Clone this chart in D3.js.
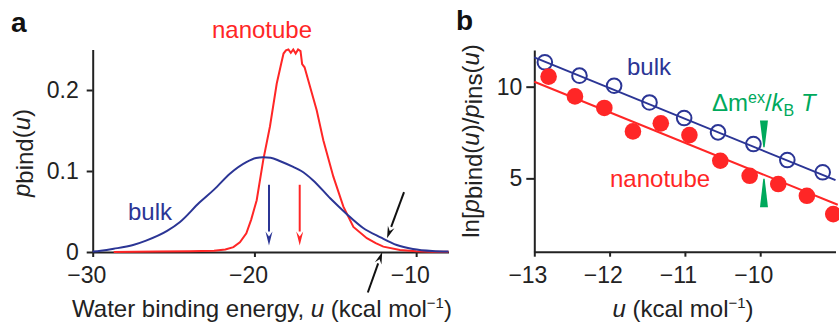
<!DOCTYPE html>
<html>
<head>
<meta charset="utf-8">
<script src="https://cdn.jsdelivr.net/npm/d3@7"></script>
<style>
  body { margin: 0; background: #fff; }
  svg { display: block; font-family: "Liberation Sans", Arial, sans-serif; }
</style>
</head>
<body>
<div id="plot"></div>
<script>
// Panel a: binding energy distributions
var bulkU = [-30, -29.5, -28.7, -27.5, -26.7, -25.4, -24.6, -23.4, -22.5, -21.5, -20.5, -19.9, -19.45, -19.0, -18.4, -17.6, -17.1, -16.4, -15.3, -14.3, -13.3, -12.2, -11.2, -10.2, -9.0, -8];
var bulkP = [0.0005, 0.0016, 0.004, 0.0086, 0.014, 0.026, 0.037, 0.061, 0.077, 0.097, 0.111, 0.116, 0.117, 0.1165, 0.112, 0.105, 0.100, 0.089, 0.066, 0.047, 0.030, 0.018, 0.0086, 0.0037, 0.0012, 0.0006];
var nanoU = [-28.7, -26, -24, -22.5, -21.8, -21.3, -20.9, -20.5, -20.2, -19.86, -19.45, -19.04, -18.62, -18.35, -18.2, -18.05, -17.9, -17.75, -17.6, -17.45, -17.3, -17.15, -17.05, -16.9, -16.56, -16.15, -15.74, -15.12, -14.5, -13.88, -13.05, -12.5, -12.03, -11, -10, -9, -8];
var nanoP = [0, 0.0005, 0.0008, 0.0015, 0.003, 0.006, 0.012, 0.023, 0.04, 0.064, 0.114, 0.155, 0.208, 0.232, 0.245, 0.249, 0.25, 0.246, 0.25, 0.245, 0.25, 0.248, 0.232, 0.228, 0.204, 0.175, 0.138, 0.093, 0.056, 0.031, 0.017, 0.011, 0.0066, 0.0025, 0.001, 0.0004, 0.0002];
var xTicksA = [-30, -20, -10];
var yTicksA = [0, 0.1, 0.2];
// arrows: [u0, p0, u1, p1], tail -> tip
var meanArrows = [[-19.1, 0.083, -19.1, 0.008], [-17.2, 0.083, -17.2, 0.008]];
var blackArrows = [[-10.75, 0.074, -11.8, 0.017], [-12.99, -0.05, -12.1, 0.0]];

// Panel b: log ratio vs u
var bulkBU = [-12.86, -12.40, -11.94, -11.47, -11.01, -10.56, -10.09, -9.64, -9.17];
var bulkBV = [11.33, 10.6, 10.05, 9.14, 8.29, 7.51, 6.87, 6.0, 5.33];
var nanoBU = [-12.81, -12.46, -12.07, -11.69, -11.32, -10.94, -10.53, -10.14, -9.76, -9.38, -9.03];
var nanoBV = [10.55, 9.47, 8.84, 7.56, 8.0, 7.36, 5.96, 5.14, 4.69, 4.05, 3.05];
var bulkFitU = [-13, -9], bulkFitV = [11.6, 4.9];
var nanoFitU = [-13, -8.97], nanoFitV = [10.27, 3.56];
var xTicksB = [-13, -12, -11, -10];
var yTicksB = [5, 10];
// green wedges at u = -9.95: [wide end, tip]
var deltaU = -9.95;
var wedges = [[8.15, 6.69], [3.42, 4.98]];

var blue = "#2b3595", red = "#ff2626", green = "#00a95c";
var W = 839, H = 328;

var svg = d3.select("#plot").append("svg")
    .attr("width", W).attr("height", H)
    .attr("viewBox", "0 0 " + W + " " + H);

function fmtMinus(d) { return d < 0 ? "\u2212" + Math.abs(d) : "" + d; }

function arrow(g, x0, y0, x1, y1, color, len, half) {
    var a = Math.atan2(y1 - y0, x1 - x0);
    var bx = x1 - len * Math.cos(a), by = y1 - len * Math.sin(a);
    g.append("line")
        .attr("x1", x0).attr("y1", y0).attr("x2", bx).attr("y2", by)
        .attr("stroke", color).attr("stroke-width", 2);
    var px = -Math.sin(a) * half, py = Math.cos(a) * half;
    g.append("path")
        .attr("d", "M" + x1 + "," + y1 + "L" + (bx + px) + "," + (by + py) +
            "L" + (bx + 0.35 * len * Math.cos(a)) + "," + (by + 0.35 * len * Math.sin(a)) +
            "L" + (bx - px) + "," + (by - py) + "Z")
        .attr("fill", color);
}

function styleAxis(g) {
    g.selectAll(".domain").attr("stroke", "#222").attr("stroke-width", 2);
    g.selectAll(".tick line").attr("stroke", "#222").attr("stroke-width", 2);
    g.selectAll(".tick text").attr("fill", "#222")
        .style("font-family", "Liberation Sans, Arial, sans-serif")
        .style("font-size", "23px");
}

// ---------- panel a ----------
var xa = d3.scaleLinear().domain([-30, -8]).range([92.7, 448.5]);
var ya = d3.scaleLinear().domain([0, 0.25]).range([252, 49.5]);

var ga = svg.append("g");
var axA = ga.append("g").attr("transform", "translate(0," + ya(0) + ")")
    .call(d3.axisBottom(xa).tickValues(xTicksA).tickFormat(fmtMinus)
        .tickSize(5).tickSizeOuter(0).tickPadding(10));
styleAxis(axA);
axA.selectAll(".tick text").attr("dx", "-0.28em");
var ayA = ga.append("g").attr("transform", "translate(" + xa(-30) + ",0)")
    .call(d3.axisLeft(ya).tickValues(yTicksA).tickFormat(function(d) { return d === 0 ? "0" : d3.format(".1f")(d); })
        .tickSize(6).tickSizeOuter(0).tickPadding(8));
styleAxis(ayA);

var lineA = d3.line().x(function(d) { return xa(d[0]); }).y(function(d) { return ya(d[1]); });
ga.append("path").datum(d3.zip(nanoU, nanoP)).attr("d", lineA)
    .attr("fill", "none").attr("stroke", red).attr("stroke-width", 2);
ga.append("path").datum(d3.zip(bulkU, bulkP)).attr("d", lineA.curve(d3.curveMonotoneX))
    .attr("fill", "none").attr("stroke", blue).attr("stroke-width", 2);

arrow(ga, xa(meanArrows[0][0]), ya(meanArrows[0][1]), xa(meanArrows[0][2]), ya(meanArrows[0][3]), blue, 14, 3.5);
arrow(ga, xa(meanArrows[1][0]), ya(meanArrows[1][1]), xa(meanArrows[1][2]), ya(meanArrows[1][3]), red, 14, 3.5);
blackArrows.forEach(function(b) {
    arrow(ga, xa(b[0]), ya(b[1]), xa(b[2]), ya(b[3]), "#111", 12, 3.5);
});

ga.append("text").attr("x", 262).attr("y", 38).attr("text-anchor", "middle")
    .attr("fill", red).style("font-size", "24px").text("nanotube");
ga.append("text").attr("x", 128).attr("y", 220)
    .attr("fill", blue).style("font-size", "24px").text("bulk");

var labA = ga.append("text").attr("x", 262).attr("y", 317).attr("text-anchor", "middle")
    .attr("fill", "#222").style("font-size", "24px");
labA.append("tspan").text("Water binding energy, ");
labA.append("tspan").style("font-style", "italic").text("u");
labA.append("tspan").text(" (kcal mol");
labA.append("tspan").attr("dy", -9).style("font-size", "15px").text("\u22121");
labA.append("tspan").attr("dy", 9).text(")");

var ylA = ga.append("text").attr("transform", "translate(30,153) rotate(-90)")
    .attr("text-anchor", "middle").attr("fill", "#222").style("font-size", "24px");
ylA.append("tspan").style("font-style", "italic").text("p");
ylA.append("tspan").attr("dy", 3).text("bind");
ylA.append("tspan").attr("dy", -3).text("(");
ylA.append("tspan").style("font-style", "italic").text("u");
ylA.append("tspan").text(")");

svg.append("text").attr("x", 11).attr("y", 32).attr("fill", "#111")
    .style("font-size", "28px").style("font-weight", "bold").text("a");

// ---------- panel b ----------
var xb = d3.scaleLinear().domain([-13, -9]).range([534.3, 835.5]);
var yb = d3.scaleLinear().domain([1, 12]).range([251.7, 50]);

var gb = svg.append("g");
var axB = gb.append("g").attr("transform", "translate(0," + yb(1) + ")")
    .call(d3.axisBottom(xb).tickValues(xTicksB).tickFormat(fmtMinus)
        .tickSize(5).tickSizeOuter(0).tickPadding(10));
styleAxis(axB);
axB.selectAll(".tick text").attr("dx", "-0.3em");
var ayB = gb.append("g").attr("transform", "translate(" + xb(-13) + ",0)")
    .call(d3.axisLeft(yb).tickValues(yTicksB).tickSize(8).tickSizeOuter(0).tickPadding(4));
styleAxis(ayB);

var lineB = d3.line().x(function(d) { return xb(d[0]); }).y(function(d) { return yb(d[1]); });
gb.append("path").datum(d3.zip(bulkFitU, bulkFitV)).attr("d", lineB)
    .attr("fill", "none").attr("stroke", blue).attr("stroke-width", 2);
gb.append("path").datum(d3.zip(nanoFitU, nanoFitV)).attr("d", lineB)
    .attr("fill", "none").attr("stroke", red).attr("stroke-width", 2);

gb.selectAll("circle.bulk").data(d3.zip(bulkBU, bulkBV)).enter().append("circle")
    .attr("class", "bulk")
    .attr("cx", function(d) { return xb(d[0]); }).attr("cy", function(d) { return yb(d[1]); })
    .attr("r", 7.3).attr("fill", "none").attr("stroke", blue).attr("stroke-width", 2);
gb.selectAll("circle.nano").data(d3.zip(nanoBU, nanoBV)).enter().append("circle")
    .attr("class", "nano")
    .attr("cx", function(d) { return xb(d[0]); }).attr("cy", function(d) { return yb(d[1]); })
    .attr("r", 8.3).attr("fill", red);

wedges.forEach(function(w) {
    var x = xb(deltaU), yw = yb(w[0]), yt = yb(w[1]);
    gb.append("path")
        .attr("d", "M" + (x - 4) + "," + yw + "L" + (x + 4) + "," + yw + "L" + (x + 0.7) + "," + yt + "L" + (x - 0.7) + "," + yt + "Z")
        .attr("fill", green);
});

gb.append("text").attr("x", 627).attr("y", 75)
    .attr("fill", blue).style("font-size", "24px").text("bulk");
gb.append("text").attr("x", 610).attr("y", 187)
    .attr("fill", red).style("font-size", "24px").text("nanotube");

var dl = gb.append("text").attr("x", 712).attr("y", 111)
    .attr("fill", green).style("font-size", "24px");
dl.append("tspan").text("\u0394m");
dl.append("tspan").attr("dy", -8).style("font-size", "16px").text("ex");
dl.append("tspan").attr("dy", 8).text("/");
dl.append("tspan").style("font-style", "italic").text("k");
dl.append("tspan").attr("dy", 5).style("font-size", "16px").text("B");
dl.append("tspan").attr("dy", -5).text(" ");
dl.append("tspan").style("font-style", "italic").text("T");

var labB = gb.append("text").attr("x", 683).attr("y", 317).attr("text-anchor", "middle")
    .attr("fill", "#222").style("font-size", "24px");
labB.append("tspan").style("font-style", "italic").text("u");
labB.append("tspan").text(" (kcal mol");
labB.append("tspan").attr("dy", -9).style("font-size", "15px").text("\u22121");
labB.append("tspan").attr("dy", 9).text(")");

var ylB = gb.append("text").attr("transform", "translate(479,141) rotate(-90)")
    .attr("text-anchor", "middle").attr("fill", "#222").style("font-size", "24px");
ylB.append("tspan").text("ln[");
ylB.append("tspan").style("font-style", "italic").text("p");
ylB.append("tspan").attr("dy", 3).text("bind");
ylB.append("tspan").attr("dy", -3).text("(");
ylB.append("tspan").style("font-style", "italic").text("u");
ylB.append("tspan").text(")/");
ylB.append("tspan").style("font-style", "italic").text("p");
ylB.append("tspan").attr("dy", 3).text("ins");
ylB.append("tspan").attr("dy", -3).text("(");
ylB.append("tspan").style("font-style", "italic").text("u");
ylB.append("tspan").text(")");

svg.append("text").attr("x", 456).attr("y", 30).attr("fill", "#111")
    .style("font-size", "28px").style("font-weight", "bold").text("b");
</script>
</body>
</html>
